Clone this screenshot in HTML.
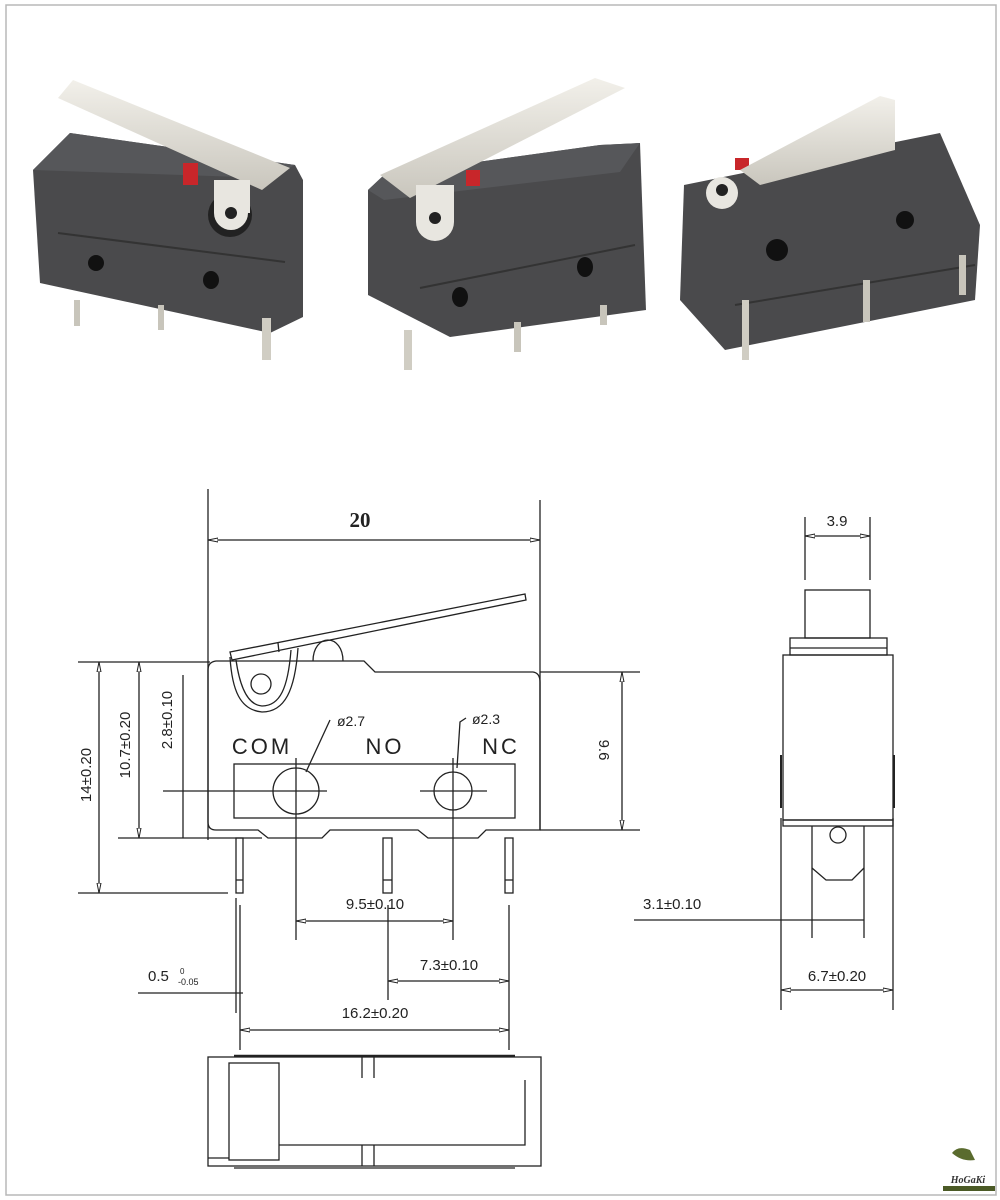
<!DOCTYPE html>
<html><head><meta charset="utf-8"><style>
html,body{margin:0;padding:0;background:#fff;}
svg{display:block;}
text{font-family:"Liberation Sans",sans-serif;fill:#222;}
</style></head><body>
<svg width="1000" height="1200" viewBox="0 0 1000 1200" xmlns="http://www.w3.org/2000/svg">
<defs>
<marker id="a" viewBox="0 0 10 6" refX="10" refY="3" markerWidth="10" markerHeight="6" orient="auto-start-reverse" markerUnits="userSpaceOnUse">
<path d="M0,1 L10,3 L0,5 Z" fill="#fff" stroke="#222" stroke-width="1"/>
</marker>
<linearGradient id="lev" x1="0" y1="0" x2="0" y2="1"><stop offset="0" stop-color="#f2f0ea"/><stop offset="1" stop-color="#c9c6bd"/></linearGradient>
</defs>
<rect x="6" y="5" width="990" height="1190" fill="#fff" stroke="#b8b8b8" stroke-width="1.5"/>

<!-- PHOTOS -->
<g>
<!-- switch 1 -->
<polygon points="33,170 70,133 295,165 303,180 303,317 270,333 40,283" fill="#4a4a4c"/>
<polygon points="33,170 70,133 295,165 270,178" fill="#56575a"/>
<line x1="58" y1="233" x2="285" y2="262" stroke="#333" stroke-width="2"/>
<rect x="74" y="300" width="6" height="26" fill="#c8c5bb"/>
<rect x="158" y="305" width="6" height="25" fill="#c8c5bb"/>
<rect x="262" y="318" width="9" height="42" fill="#d0cdc3"/>
<circle cx="96" cy="263" r="8" fill="#111"/>
<ellipse cx="211" cy="280" rx="8" ry="9" fill="#111"/>
<rect x="183" y="163" width="15" height="22" fill="#c8262a"/>
<polygon points="58,98 73,80 290,168 262,190" fill="url(#lev)"/>
<circle cx="230" cy="215" r="22" fill="#222"/>
<circle cx="231" cy="213" r="17" fill="#e8e6e0"/>
<rect x="214" y="180" width="36" height="33" fill="#e8e6e0"/>
<circle cx="231" cy="213" r="6" fill="#222"/>
<!-- switch 2 -->
<polygon points="368,190 384,175 600,145 640,143 646,310 450,337 368,295" fill="#4a4a4c"/>
<polygon points="368,190 384,175 600,145 640,143 620,172 384,200" fill="#56575a"/>
<line x1="420" y1="288" x2="635" y2="245" stroke="#333" stroke-width="2"/>
<rect x="404" y="330" width="8" height="40" fill="#d0cdc3"/>
<rect x="514" y="322" width="7" height="30" fill="#c8c5bb"/>
<rect x="600" y="305" width="7" height="20" fill="#c8c5bb"/>
<ellipse cx="460" cy="297" rx="8" ry="10" fill="#111"/>
<ellipse cx="585" cy="267" rx="8" ry="10" fill="#111"/>
<rect x="466" y="170" width="14" height="16" fill="#c8262a"/>
<polygon points="380,175 595,78 625,88 410,198" fill="url(#lev)"/>
<circle cx="435" cy="222" r="19" fill="#e8e6e0"/>
<rect x="416" y="185" width="38" height="37" fill="#e8e6e0"/>
<circle cx="435" cy="218" r="6" fill="#222"/>
<!-- switch 3 -->
<polygon points="684,185 940,133 980,225 975,300 725,350 680,300" fill="#4a4a4c"/>
<line x1="735" y1="305" x2="975" y2="265" stroke="#333" stroke-width="2"/>
<rect x="742" y="300" width="7" height="60" fill="#d0cdc3"/>
<rect x="863" y="280" width="7" height="42" fill="#c8c5bb"/>
<rect x="959" y="255" width="7" height="40" fill="#c8c5bb"/>
<ellipse cx="777" cy="250" rx="11" ry="11" fill="#111"/>
<ellipse cx="905" cy="220" rx="9" ry="9" fill="#111"/>
<rect x="735" y="158" width="14" height="12" fill="#c8262a"/>
<polygon points="740,170 880,96 895,100 895,150 760,185" fill="url(#lev)"/>
<circle cx="722" cy="193" r="16" fill="#e8e6e0"/>
<circle cx="722" cy="190" r="6" fill="#222"/>
</g>

<!-- DRAWING -->
<g stroke="#222" stroke-width="1.3" fill="none">
<line x1="208" y1="489" x2="208" y2="840"/>
<line x1="540" y1="500" x2="540" y2="830"/>
<line x1="208" y1="540" x2="540" y2="540" marker-start="url(#a)" marker-end="url(#a)"/>
<polygon points="230,652 525,594 526,600 232,660"/>
<line x1="278" y1="643" x2="279" y2="652"/>
<path d="M230,657 C232,690 240,710 262,712 C285,712 295,690 298,648"/>
<path d="M236,660 C240,688 248,705 262,706 C280,706 288,688 291,650"/>
<path d="M313,661 C313,648 320,640 328,640 C336,640 343,648 343,661"/>
<circle cx="261" cy="684" r="10"/>
<path d="M216,661 L364,661 L375,672 L533,672 Q540,673 540,682 L540,830 L486,830 L478,838 L428,838 L418,830 L330,830 L322,838 L268,838 L258,830 L216,830 Q208,830 208,822 L208,670 Q208,662 216,661 Z"/>
<rect x="234" y="764" width="281" height="54"/>
<circle cx="296" cy="791" r="23"/>
<circle cx="453" cy="791" r="19"/>
<line x1="163" y1="791" x2="327" y2="791"/>
<line x1="420" y1="791" x2="487" y2="791"/>
<line x1="296" y1="758" x2="296" y2="940"/>
<line x1="453" y1="758" x2="453" y2="940"/>
<polyline points="330,720 306,772"/>
<polyline points="466,718 460,722 457,768"/>
<rect x="236" y="838" width="7" height="55"/>
<line x1="236" y1="880" x2="243" y2="880"/>
<rect x="383" y="838" width="9" height="55"/>
<line x1="383" y1="880" x2="392" y2="880"/>
<rect x="505" y="838" width="8" height="55"/>
<line x1="505" y1="880" x2="513" y2="880"/>
<line x1="78" y1="662" x2="210" y2="662"/>
<line x1="78" y1="893" x2="228" y2="893"/>
<line x1="99" y1="662" x2="99" y2="893" marker-start="url(#a)" marker-end="url(#a)"/>
<line x1="118" y1="838" x2="262" y2="838"/>
<line x1="139" y1="662" x2="139" y2="838" marker-start="url(#a)" marker-end="url(#a)"/>
<line x1="183" y1="675" x2="183" y2="838"/>
<line x1="540" y1="672" x2="640" y2="672"/>
<line x1="540" y1="830" x2="640" y2="830"/>
<line x1="622" y1="672" x2="622" y2="830" marker-start="url(#a)" marker-end="url(#a)"/>
<line x1="236" y1="898" x2="236" y2="1013"/>
<line x1="240" y1="905" x2="240" y2="1050"/>
<line x1="509" y1="905" x2="509" y2="1050"/>
<line x1="388" y1="905" x2="388" y2="1000"/>
<line x1="296" y1="921" x2="453" y2="921" marker-start="url(#a)" marker-end="url(#a)"/>
<line x1="388" y1="981" x2="509" y2="981" marker-start="url(#a)" marker-end="url(#a)"/>
<line x1="240" y1="1030" x2="509" y2="1030" marker-start="url(#a)" marker-end="url(#a)"/>
<line x1="138" y1="993" x2="243" y2="993"/>
<rect x="208" y="1057" width="333" height="109"/>
<line x1="234" y1="1056" x2="515" y2="1056" stroke-width="2.5"/>
<line x1="234" y1="1168" x2="515" y2="1168"/>
<rect x="229" y="1063" width="50" height="97"/>
<line x1="208" y1="1158" x2="229" y2="1158"/>
<line x1="362" y1="1057" x2="362" y2="1078"/>
<line x1="374" y1="1057" x2="374" y2="1078"/>
<line x1="362" y1="1145" x2="362" y2="1166"/>
<line x1="374" y1="1145" x2="374" y2="1166"/>
<polyline points="279,1145 525,1145 525,1080"/>
<line x1="805" y1="517" x2="805" y2="580"/>
<line x1="870" y1="517" x2="870" y2="580"/>
<line x1="805" y1="536" x2="870" y2="536" marker-start="url(#a)" marker-end="url(#a)"/>
<rect x="805" y="590" width="65" height="48"/>
<rect x="790" y="638" width="97" height="17"/>
<line x1="790" y1="648" x2="887" y2="648"/>
<rect x="783" y="655" width="110" height="165"/>
<line x1="781" y1="755" x2="781" y2="808" stroke-width="2"/>
<line x1="894" y1="755" x2="894" y2="808" stroke-width="2"/>
<rect x="783" y="820" width="110" height="6"/>
<polyline points="812,826 812,938"/>
<polyline points="864,826 864,938"/>
<polyline points="812,868 826,880 852,880 864,868"/>
<circle cx="838" cy="835" r="8"/>
<line x1="781" y1="818" x2="781" y2="1010"/>
<line x1="893" y1="818" x2="893" y2="1010"/>
<line x1="781" y1="990" x2="893" y2="990" marker-start="url(#a)" marker-end="url(#a)"/>
<line x1="634" y1="920" x2="864" y2="920"/>
</g>

<g font-size="15">
<text x="360" y="527" font-weight="bold" font-size="21" text-anchor="middle" style="font-family:'Liberation Serif',serif">20</text>
<text x="262" y="754" font-size="22" text-anchor="middle" letter-spacing="3">COM</text>
<text x="385" y="754" font-size="22" text-anchor="middle" letter-spacing="3">NO</text>
<text x="501" y="754" font-size="22" text-anchor="middle" letter-spacing="3">NC</text>
<text x="337" y="726" font-size="14">ø2.7</text>
<text x="472" y="724" font-size="14">ø2.3</text>
<text transform="translate(91,775) rotate(-90)" text-anchor="middle">14±0.20</text>
<text transform="translate(130,745) rotate(-90)" text-anchor="middle">10.7±0.20</text>
<text transform="translate(172,720) rotate(-90)" text-anchor="middle">2.8±0.10</text>
<text transform="translate(599,750) rotate(90)" text-anchor="middle">9.6</text>
<text x="375" y="909" text-anchor="middle">9.5±0.10</text>
<text x="449" y="970" text-anchor="middle">7.3±0.10</text>
<text x="375" y="1018" text-anchor="middle">16.2±0.20</text>
<text x="148" y="981">0.5</text>
<text x="180" y="974" font-size="8">0</text>
<text x="178" y="985" font-size="9">-0.05</text>
<text x="837" y="526" text-anchor="middle">3.9</text>
<text x="643" y="909">3.1±0.10</text>
<text x="837" y="981" text-anchor="middle">6.7±0.20</text>
</g>

<path d="M952,1153 Q958,1145 970,1150 L975,1160 Q962,1162 952,1153 Z" fill="#5a6b2e"/>
<text x="968" y="1183" font-size="10" font-weight="bold" font-style="italic" text-anchor="middle" style="fill:#333;font-family:'Liberation Serif',serif">HoGaKi</text>
<rect x="943" y="1186" width="52" height="5" fill="#4b5a26"/>
</svg>
</body></html>
